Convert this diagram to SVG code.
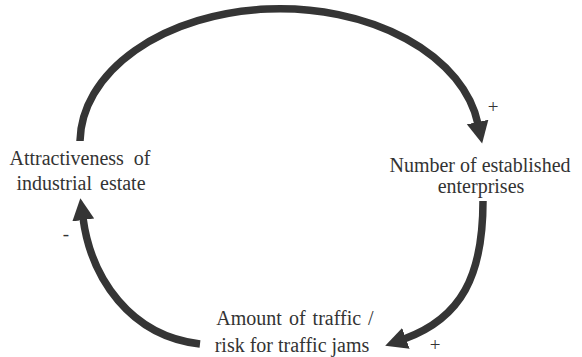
<svg xmlns="http://www.w3.org/2000/svg" width="582" height="357" viewBox="0 0 582 357">
<style>
.lbl{font-family:"Liberation Serif","Times New Roman",serif;font-size:20px;fill:#333;text-anchor:middle}
.sgn{font-family:"Liberation Serif","Times New Roman",serif;font-size:19px;fill:#333;text-anchor:middle}
.arc{fill:none;stroke:#353535;stroke-width:7.5;stroke-linecap:butt}
</style>
<defs>
<marker id="ah" markerUnits="userSpaceOnUse" markerWidth="24" markerHeight="24" refX="2" refY="11" orient="auto">
<path d="M0,0 L22,11 L0,22 z" fill="#353535"/>
</marker>
</defs>
<rect width="582" height="357" fill="#fff"/>
<g id="connectors">
<path class="arc" d="M80,141 A200,134 0 0 1 478,124" marker-end="url(#ah)"/>
<path class="arc" d="M483,201 C483,275 462,318 404,339" marker-end="url(#ah)"/>
<path class="arc" d="M200,344 C130,336 91,278 83,218" marker-end="url(#ah)"/>
<text class="sgn" x="493" y="113">+</text>
<text class="sgn" x="435" y="351">+</text>
<text class="sgn" x="66" y="240">-</text>
</g>
<g id="attractiveness">
<text class="lbl" x="80" y="165" word-spacing="5">Attractiveness of</text>
<text class="lbl" x="81" y="190" word-spacing="3">industrial estate</text>
</g>
<g id="enterprises">
<text class="lbl" x="480" y="172">Number of established</text>
<text class="lbl" x="481" y="193">enterprises</text>
</g>
<g id="traffic">
<text class="lbl" x="295" y="325" word-spacing="2">Amount of traffic /</text>
<text class="lbl" x="292" y="352">risk for traffic jams</text>
</g>
</svg>
